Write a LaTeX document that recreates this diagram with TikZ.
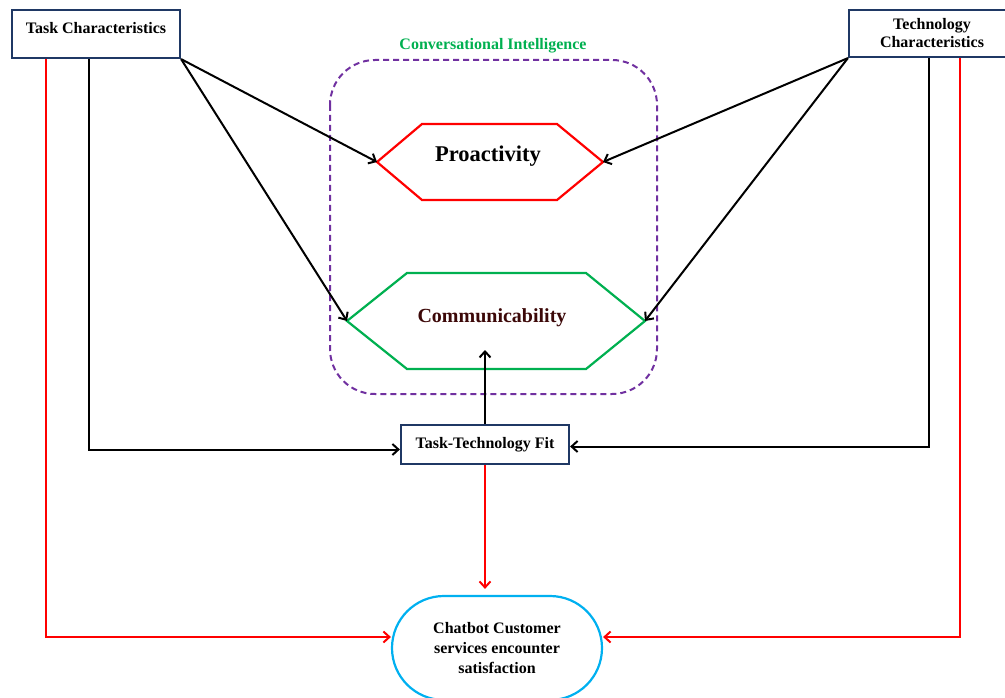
\documentclass[tikz,border=0pt]{standalone}
\usepackage{fontspec}
\setmainfont{Liberation Serif}
\usepackage{tikz}
\usetikzlibrary{calc,arrows.meta,shapes.misc}
\usepackage{xcolor}
\definecolor{boxblue}{RGB}{31,56,100}
\definecolor{ciGreen}{RGB}{0,176,80}
\definecolor{ciPurple}{RGB}{112,48,160}
\definecolor{chatBlue}{RGB}{0,176,240}
\definecolor{commRed}{RGB}{60,8,8}

\begin{document}
\begin{tikzpicture}[x=1pt,y=-1pt,
    box/.style={draw=boxblue,line width=2.2pt,fill=white,inner sep=0pt,
      align=center,font=\fontsize{16}{18}\selectfont\bfseries},
    arr/.style={line width=2pt,-{Straight Barb[length=6pt,width=11pt]}},
    redarr/.style={arr,red}]
      \useasboundingbox (0,0) rectangle (1005,698);

      % Boites
      \node[box,minimum width=168pt,minimum height=48pt,text height=12pt,text depth=12pt] (task) at (96,34) {Task Characteristics};
      \node[box,minimum width=166pt,minimum height=47pt] (tech) at (932,33.5) {Technology\\Characteristics};
      \node[box,minimum width=168pt,minimum height=39pt] (ttf) at (485,444.5) {Task-Technology Fit};
      \node[rounded rectangle,draw=chatBlue,line width=2.2pt,minimum width=210pt,minimum height=104pt,
        inner sep=0pt,align=center,font=\fontsize{16}{20}\selectfont\bfseries] (chat) at (497,648)
        {Chatbot Customer\\services encounter\\satisfaction};

      % Intelligence
      \draw[ciPurple,line width=2pt,dash pattern=on 6pt off 4pt,rounded corners=45pt] (330,60) rectangle (657,394);
      \node[ciGreen,anchor=base,font=\fontsize{16}{18}\selectfont\bfseries] (ci) at (493,50) {Conversational Intelligence};

      \coordinate (proL) at (377,162);
      \coordinate (proR) at (603,162);
      \draw[red,line width=2.2pt] (proL) -- (422,124) -- (557,124) -- (proR) -- (557,200) -- (422,200) -- cycle;
      \node[anchor=base,font=\fontsize{22.5}{27}\selectfont\bfseries] (pro) at (488,162) {Proactivity};

      \coordinate (comL) at (347,321);
      \coordinate (comR) at (645,321);
      \draw[ciGreen,line width=2.2pt] (comL) -- (407,273) -- (586,273) -- (comR) -- (586,369) -- (407,369) -- cycle;
      \node[commRed,anchor=base,font=\fontsize{20}{24}\selectfont\bfseries] (com) at (492,322) {Communicability};
      \coordinate (fitin) at (485,350);

      % Fleches
      \draw[arr] (task.south east) -- (proL);
      \draw[arr] (task.south east) -- (comL);
      \draw[arr] (tech.south west) -- (proR);
      \draw[arr] (tech.south west) -- (comR);
      \draw[arr] ($(task.south west)+(78,0)$) |- ([yshift=-5pt]ttf.west);
      \draw[arr] ($(tech.south west)+(81,0)$) |- ([yshift=-2pt]ttf.east);
      \draw[arr] (ttf.north) -- (fitin);
      \draw[redarr,shorten >=6pt] (ttf.south) -- (ttf.south |- chat.north);
      \draw[redarr] ($(task.south west)+(35,0)$) |- ([yshift=11pt]chat.west);
      \draw[redarr] ($(tech.south west)+(112,0)$) |- ([yshift=11pt]chat.east);
    \end{tikzpicture}
\end{document}
